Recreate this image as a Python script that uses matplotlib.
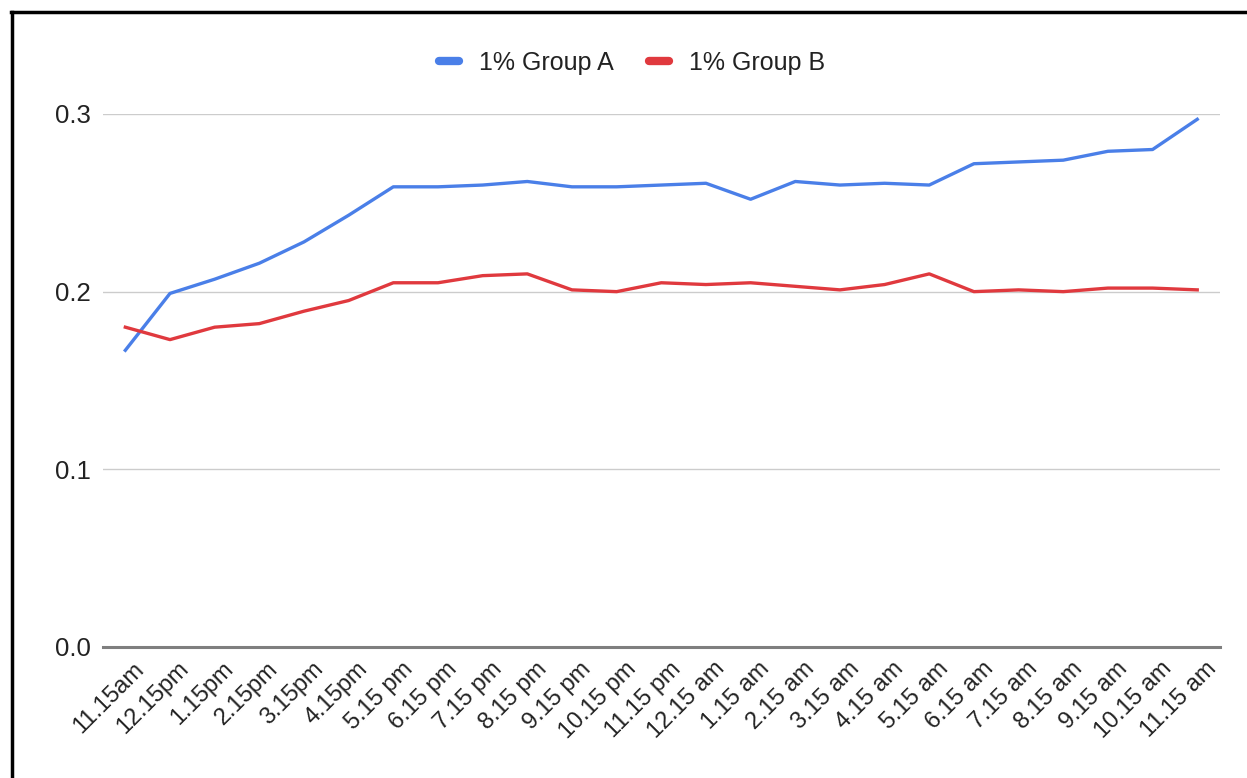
import matplotlib
matplotlib.use('Agg')
import matplotlib.pyplot as plt
from matplotlib.lines import Line2D
import matplotlib.transforms as mtransforms

plt.rcParams['font.family'] = ['Liberation Sans', 'DejaVu Sans']

# Hourly readings, 11.15am through 11.15am the next day
times = ['11.15am', '12.15pm', '1.15pm', '2.15pm', '3.15pm', '4.15pm',
         '5.15 pm', '6.15 pm', '7.15 pm', '8.15 pm', '9.15 pm', '10.15 pm',
         '11.15 pm', '12.15 am', '1.15 am', '2.15 am', '3.15 am', '4.15 am',
         '5.15 am', '6.15 am', '7.15 am', '8.15 am', '9.15 am', '10.15 am',
         '11.15 am']

group_a = [0.167, 0.199, 0.207, 0.216, 0.228, 0.243, 0.259, 0.259, 0.260,
           0.262, 0.259, 0.259, 0.260, 0.261, 0.252, 0.262, 0.260, 0.261,
           0.260, 0.272, 0.273, 0.274, 0.279, 0.280, 0.297]

group_b = [0.180, 0.173, 0.180, 0.182, 0.189, 0.195, 0.205, 0.205, 0.209,
           0.210, 0.201, 0.200, 0.205, 0.204, 0.205, 0.203, 0.201, 0.204,
           0.210, 0.200, 0.201, 0.200, 0.202, 0.202, 0.201]

y_ticks = [0.0, 0.1, 0.2, 0.3]

blue = '#4a7fe8'
red = '#e0393e'

fig = plt.figure(figsize=(12.47, 7.78), dpi=100)
ax = fig.add_axes([0.0826, 0.1684, 0.8954, 0.6851])

x = list(range(len(times)))
ax.plot(x, group_a, color=blue, lw=2.4, label='1% Group A', clip_on=False,
        solid_joinstyle='round', zorder=3)
ax.plot(x, group_b, color=red, lw=2.4, label='1% Group B', clip_on=False,
        solid_joinstyle='round', zorder=3)

ax.set_xlim(-0.5, len(times) - 0.5)
ax.set_ylim(0, 0.3)
ax.set_yticks(y_ticks)
ax.set_yticklabels([f'{v:.1f}' for v in y_ticks])

ax.grid(axis='y', color='#cccccc', lw=1.0)
ax.set_axisbelow(True)
for side in ['top', 'right', 'left']:
    ax.spines[side].set_visible(False)
ax.spines['bottom'].set_color('#7f7f7f')
ax.spines['bottom'].set_linewidth(2.2)

ax.tick_params(axis='both', length=0, labelcolor='#222222')
ax.tick_params(axis='x', labelsize=17)
ax.tick_params(axis='y', labelsize=18.5, pad=9)

ax.set_xticks(x)
ax.set_xticklabels(times, rotation=45, ha='right', va='top',
                   rotation_mode='anchor')
shift = mtransforms.ScaledTranslation(8 / 100, -6 / 100, fig.dpi_scale_trans)
for lbl in ax.get_xticklabels():
    lbl.set_transform(lbl.get_transform() + shift)

handles = [Line2D([], [], color=blue, lw=6, solid_capstyle='round'),
           Line2D([], [], color=red, lw=6, solid_capstyle='round')]
fig.legend(handles, ['1% Group A', '1% Group B'], loc='center',
           bbox_to_anchor=(632 / 1247, 1 - 63 / 778), ncol=2, frameon=False,
           fontsize=18, handlelength=0.8, handletextpad=0.8, columnspacing=1.4,
           labelcolor='#222222')

# frame lines along the top and left edges
fig.add_artist(Line2D([0.0096, 0.0096], [0, 0.985], color='black', lw=2.5,
                      transform=fig.transFigure))
fig.add_artist(Line2D([0.0085, 1.0], [0.985, 0.985], color='black', lw=2.5,
                      transform=fig.transFigure))

fig.savefig('out.png', dpi=100)
